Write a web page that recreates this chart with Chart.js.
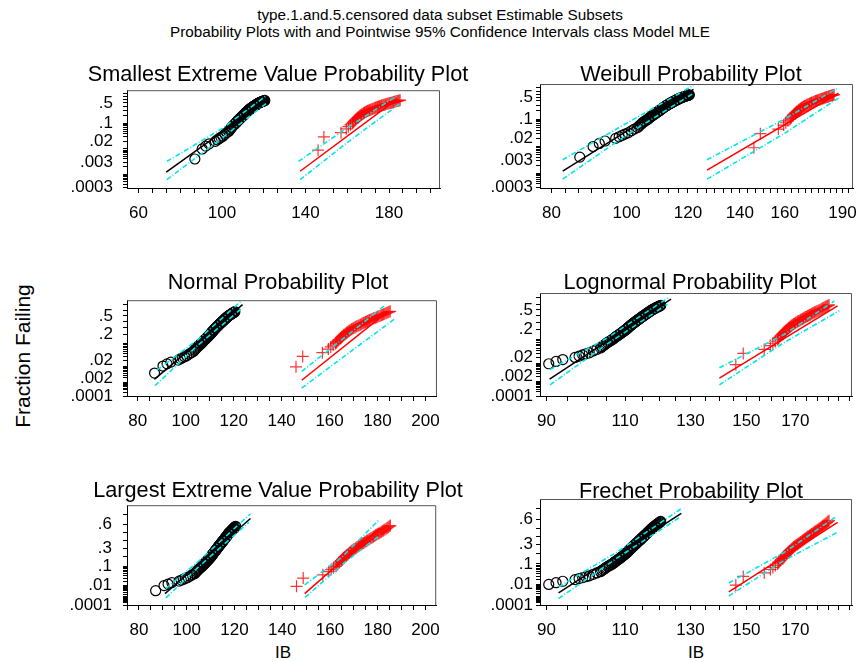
<!DOCTYPE html>
<html>
<head>
<meta charset="utf-8">
<script src="https://cdn.jsdelivr.net/npm/chart.js@4.4.1/dist/chart.umd.min.js"></script>
<style>
  html, body { margin: 0; padding: 0; background: #fff; }
  body { width: 861px; height: 662px; position: relative; overflow: hidden;
         font-family: "Liberation Sans", Arial, sans-serif; color: #000; }
  .txt { position: absolute; white-space: nowrap; line-height: 1; }
  canvas { position: absolute; }
</style>
</head>
<body>
<div class="txt" style="left:440px; top:7px; font-size:15.3px; transform:translateX(-50%)">type.1.and.5.censored data subset Estimable Subsets</div>
<div class="txt" style="left:440px; top:24px; font-size:15.3px; transform:translateX(-50%)">Probability Plots with and Pointwise 95% Confidence Intervals class Model MLE</div>
<div class="txt" style="left:22px; top:356px; font-size:21px; transform:translate(-50%,-50%) rotate(-90deg)">Fraction Failing</div>
<div class="txt" style="left:283px; top:644px; font-size:17px; transform:translateX(-50%)">IB</div>
<div class="txt" style="left:696px; top:644px; font-size:17px; transform:translateX(-50%)">IB</div>

<script>
// failure data, shared by all six plots (IB value, plotting position)
const G1_TIMES = [87.0, 90.5, 92.2, 93.8, 96.8, 97.8, 98.7, 99.5,
  100.4, 101.4, 102.3, 103.3, 103.7, 104.1, 104.5, 104.8, 105.2, 105.6, 106.0, 106.4,
  106.7, 106.9, 107.2, 107.4, 107.7, 107.9, 108.2, 108.4, 108.7, 108.9,
  109.1, 109.3, 109.5, 109.7, 109.9, 110.1, 110.3, 110.45, 110.6, 110.75,
  110.9, 111.05, 111.2, 111.35, 111.5, 111.65, 111.8, 111.95, 112.1, 112.25,
  112.4, 112.55, 112.7, 112.85, 113.0, 113.15, 113.3, 113.45, 113.6, 113.75,
  113.9, 114.05, 114.2, 114.35, 114.5, 114.65, 114.8, 114.95, 115.1, 115.25,
  115.4, 115.55, 115.7, 115.85, 116.0, 116.15, 116.3, 116.45, 116.6, 116.75,
  116.9, 117.05, 117.2, 117.35, 117.5, 117.65, 117.8, 118.0, 118.2, 118.4,
  118.6, 118.8, 119.0, 119.2, 119.4, 119.6, 119.9, 120.1, 120.3, 120.5];
const G1_PROBS = [0.004, 0.010, 0.013, 0.016, 0.020, 0.023, 0.026, 0.029,
  0.032, 0.038, 0.044, 0.050, 0.056, 0.062, 0.068, 0.074, 0.080, 0.086, 0.092, 0.098,
  0.104, 0.110, 0.116, 0.122, 0.128, 0.134, 0.140, 0.146, 0.152, 0.158,
  0.164, 0.170, 0.176, 0.182, 0.188, 0.194, 0.200, 0.206, 0.212, 0.218,
  0.224, 0.230, 0.236, 0.242, 0.248, 0.254, 0.260, 0.266, 0.272, 0.278,
  0.284, 0.290, 0.296, 0.302, 0.308, 0.314, 0.320, 0.326, 0.332, 0.338,
  0.344, 0.350, 0.356, 0.362, 0.368, 0.374, 0.380, 0.386, 0.392, 0.398,
  0.404, 0.410, 0.416, 0.422, 0.428, 0.434, 0.440, 0.446, 0.452, 0.458,
  0.464, 0.470, 0.476, 0.482, 0.488, 0.494, 0.500, 0.506, 0.512, 0.518,
  0.524, 0.530, 0.536, 0.542, 0.548, 0.554, 0.560, 0.566, 0.572, 0.578];

const G2_TIMES = [146.0, 148.8, 157.0, 159.5, 160.5, 161.5, 162.5,
  162.85, 163.2, 163.6, 163.9, 164.3, 164.6, 165.0, 165.3, 165.7, 166.0,
  166.4, 166.8, 167.1, 167.5, 167.8, 168.2, 168.5, 168.9, 169.25, 169.7,
  170.1, 170.6, 171.0, 171.4, 171.9, 172.3, 172.8, 173.2, 173.6, 174.1,
  174.5, 175.0, 175.4, 175.8, 176.3, 176.7, 177.2, 177.7, 178.2, 178.6,
  179.1, 179.6, 180.1, 180.6, 181.1, 181.6, 182.1, 182.5, 183.0, 183.5,
  183.95, 184.4, 184.85, 185.3];
const G2_PROBS = [0.009, 0.030, 0.044, 0.062, 0.075, 0.088, 0.100,
  0.109, 0.118, 0.127, 0.136, 0.145, 0.154, 0.163, 0.172, 0.181, 0.190,
  0.199, 0.208, 0.217, 0.226, 0.235, 0.244, 0.253, 0.262, 0.271, 0.280,
  0.289, 0.298, 0.307, 0.316, 0.325, 0.334, 0.343, 0.352, 0.361, 0.370,
  0.379, 0.388, 0.397, 0.406, 0.415, 0.424, 0.433, 0.442, 0.451, 0.460,
  0.469, 0.478, 0.487, 0.496, 0.505, 0.514, 0.523, 0.532, 0.541, 0.550,
  0.559, 0.568, 0.577, 0.586];

// tick labels
const SEV_Y_LABELS = [0.0003, 0.003, 0.02, 0.1, 0.5];
const NOR_Y_LABELS = [0.0001, 0.002, 0.02, 0.2, 0.5];
const LEV_Y_LABELS = [0.0001, 0.01, 0.1, 0.3, 0.6];
const SEV_X_LABELS = [60, 100, 140, 180];
const WEI_X_LABELS = [80, 100, 120, 140, 160, 190];
const NOR_X_LABELS = [80, 100, 120, 140, 160, 180, 200];
const LOG_X_LABELS = [90, 110, 130, 150, 170];

// ML fit lines and pointwise 95% bands, [IB, p]
const SEV_BLACK_FIT = [[73.3, 0.0012], [121.5, 0.6]];
const SEV_BLACK_UP = [[73.6, 0.0032], [100, 0.063], [121.5, 0.75]];
const SEV_BLACK_LO = [[73.6, 0.0006], [100, 0.027], [121.5, 0.5]];
const SEV_RED_FIT = [[137.4, 0.0013], [184, 0.63]];
const SEV_RED_UP = [[136.6, 0.0032], [160, 0.068], [183.7, 0.73]];
const SEV_RED_LO = [[137.4, 0.0006], [160, 0.018], [185.3, 0.48]];

const WEI_BLACK_FIT = [[82.7, 0.0012], [122, 0.75]];
const WEI_BLACK_UP = [[82.7, 0.0032], [100, 0.072], [122, 0.86]];
const WEI_BLACK_LO = [[82.7, 0.0006], [100, 0.027], [122, 0.63]];
const WEI_RED_FIT = [[127, 0.0013], [187.7, 0.63]];
const WEI_RED_UP = [[127, 0.0032], [160, 0.103], [187.7, 0.8]];
const WEI_RED_LO = [[127, 0.0006], [160, 0.031], [187.7, 0.48]];

const NOR_BLACK_FIT = [[86.9, 0.0016], [123.7, 0.7]];
const NOR_BLACK_UP = [[88, 0.006], [105, 0.134], [123, 0.75]];
const NOR_BLACK_LO = [[87.2, 0.0006], [105, 0.086], [123.5, 0.64]];
const NOR_RED_FIT = [[148.4, 0.0014], [184, 0.57]];
const NOR_RED_UP = [[148.4, 0.005], [165, 0.133], [182.8, 0.68]];
const NOR_RED_LO = [[148.4, 0.0004], [165, 0.0245], [187, 0.44]];

const LOG_BLACK_FIT = [[90.7, 0.0014], [123.7, 0.68]];
const LOG_BLACK_UP = [[90.8, 0.005], [105, 0.111], [123.1, 0.71]];
const LOG_BLACK_LO = [[90.8, 0.0006], [105, 0.069], [122.6, 0.6]];
const LOG_RED_FIT = [[140, 0.0016], [189.4, 0.57]];
const LOG_RED_UP = [[140, 0.0062], [165, 0.142], [187.8, 0.65]];
const LOG_RED_LO = [[140, 0.0006], [165, 0.078], [190.2, 0.485]];

const LEV_BLACK_FIT = [[90.9, 0.0022], [126.7, 0.66]];
const LEV_BLACK_UP = [[91.3, 0.006], [105, 0.147], [126.7, 0.705]];
const LEV_BLACK_LO = [[91.3, 0.0008], [105, 0.096], [126, 0.62]];
const LEV_RED_FIT = [[149.4, 0.0022], [180.8, 0.557]];
const LEV_RED_UP = [[149.4, 0.0114], [165, 0.19], [180.8, 0.653]];
const LEV_RED_LO = [[149.6, 0.0009], [165, 0.114], [181, 0.474]];

const FRE_BLACK_FIT = [[92.8, 0.0022], [127, 0.659]];
const FRE_BLACK_UP = [[92.8, 0.0067], [108, 0.22], [127, 0.7]];
const FRE_BLACK_LO = [[92.8, 0.0006], [108, 0.157], [126.5, 0.62]];
const FRE_RED_FIT = [[143.4, 0.0027], [189.4, 0.568]];
const FRE_RED_UP = [[143.4, 0.0125], [165, 0.206], [188.7, 0.627]];
const FRE_RED_LO = [[143.4, 0.0011], [165, 0.127], [189.4, 0.454]];

const CYAN = 'rgb(0,230,235)';
const YW = 90, PT = 14, PR = 10, XH = 40;

// inverse normal cdf (Acklam)
function qnorm(p) {
  const a = [-39.69683028665376, 220.9460984245205, -275.9285104469687, 138.3577518672690, -30.66479806614716, 2.506628277459239];
  const b = [-54.47609879822406, 161.5858368580409, -155.6989798598866, 66.80131188771972, -13.28068155288572];
  const c = [-0.007784894002430293, -0.3223964580411365, -2.400758277161838, -2.549732539343734, 4.374664141464968, 2.938163982698783];
  const d = [0.007784695709041462, 0.3224671290700398, 2.445134137142996, 3.754408661907416];
  const lo = 0.02425;
  if (p < lo || p > 1 - lo) {
    const q = Math.sqrt(-2 * Math.log(p < lo ? p : 1 - p));
    const v = (((((c[0]*q+c[1])*q+c[2])*q+c[3])*q+c[4])*q+c[5]) / ((((d[0]*q+d[1])*q+d[2])*q+d[3])*q+1);
    return p < lo ? v : -v;
  }
  const q = p - 0.5, r = q * q;
  return (((((a[0]*r+a[1])*r+a[2])*r+a[3])*r+a[4])*r+a[5])*q / (((((b[0]*r+b[1])*r+b[2])*r+b[3])*r+b[4])*r+1);
}

const TF = {
  sev: p => Math.log(-Math.log(1 - p)),
  nor: p => qnorm(p),
  lev: p => -Math.log(-Math.log(p)),
};

const PANELS = [
  { title: 'Smallest Extreme Value Probability Plot', tx: 278, tt: 63, box: [127, 84, 313, 104], yGap: 14,
    kind: 'sev', xType: 'linear', xMin: 54.5, xMax: 204.4, xLabels: SEV_X_LABELS, xStep: 20 / 3,
    yLabels: SEV_Y_LABELS, pMin: 0.00028, pMax: 0.89,
    black: [SEV_BLACK_FIT, SEV_BLACK_UP, SEV_BLACK_LO], red: [SEV_RED_FIT, SEV_RED_UP, SEV_RED_LO] },
  { title: 'Weibull Probability Plot', tx: 691, tt: 63, box: [540, 84, 313, 104], yGap: 7,
    kind: 'sev', xType: 'logarithmic', xMin: 77.3, xMax: 196, xLabels: WEI_X_LABELS, xStep: 10 / 3,
    yLabels: SEV_Y_LABELS, pMin: 0.00028, pMax: 0.89,
    black: [WEI_BLACK_FIT, WEI_BLACK_UP, WEI_BLACK_LO], red: [WEI_RED_FIT, WEI_RED_UP, WEI_RED_LO] },
  { title: 'Normal Probability Plot', tx: 278, tt: 271, box: [127, 294, 313, 102], yGap: 14,
    kind: 'nor', xType: 'linear', xMin: 75.5, xMax: 204.8, xLabels: NOR_X_LABELS, xStep: 5,
    yLabels: NOR_Y_LABELS, pMin: 0.0001, pMax: 0.768,
    black: [NOR_BLACK_FIT, NOR_BLACK_UP, NOR_BLACK_LO], red: [NOR_RED_FIT, NOR_RED_UP, NOR_RED_LO] },
  { title: 'Lognormal Probability Plot', tx: 690, tt: 271, box: [540, 293, 312, 103], yGap: 7,
    kind: 'nor', xType: 'logarithmic', xMin: 88.5, xMax: 196.5, xLabels: LOG_X_LABELS, xStep: 5,
    yLabels: NOR_Y_LABELS, pMin: 0.0001, pMax: 0.768,
    black: [LOG_BLACK_FIT, LOG_BLACK_UP, LOG_BLACK_LO], red: [LOG_RED_FIT, LOG_RED_UP, LOG_RED_LO] },
  { title: 'Largest Extreme Value Probability Plot', tx: 278, tt: 479, box: [127, 498, 313, 107], yGap: 15,
    kind: 'lev', xType: 'linear', xMin: 75, xMax: 204.5, xLabels: NOR_X_LABELS, xStep: 5,
    yLabels: LEV_Y_LABELS, pMin: 0.0001, pMax: 0.773,
    black: [LEV_BLACK_FIT, LEV_BLACK_UP, LEV_BLACK_LO], red: [LEV_RED_FIT, LEV_RED_UP, LEV_RED_LO] },
  { title: 'Frechet Probability Plot', tx: 691, tt: 480, box: [540, 499, 312, 106], yGap: 7,
    kind: 'lev', xType: 'logarithmic', xMin: 88.5, xMax: 196.5, xLabels: LOG_X_LABELS, xStep: 5,
    yLabels: LEV_Y_LABELS, pMin: 0.0001, pMax: 0.773,
    black: [FRE_BLACK_FIT, FRE_BLACK_UP, FRE_BLACK_LO], red: [FRE_RED_FIT, FRE_RED_UP, FRE_RED_LO] },
];

Chart.defaults.font.family = '"Liberation Sans", Arial, sans-serif';
Chart.defaults.font.size = 17;
Chart.defaults.color = '#000';

// top/right frame of the plotting region
const framePlugin = {
  id: 'frame',
  afterDraw(chart) {
    const { ctx, chartArea: a } = chart;
    ctx.save();
    ctx.strokeStyle = '#555';
    ctx.lineWidth = 1;
    ctx.beginPath();
    ctx.moveTo(a.left, a.top + 0.5);
    ctx.lineTo(a.right - 0.5, a.top + 0.5);
    ctx.lineTo(a.right - 0.5, a.bottom);
    ctx.stroke();
    ctx.restore();
  }
};

const near = (a, b) => Math.abs(a - b) < 1e-6 * Math.max(1, Math.abs(b));
const fmtP = p => String(p).replace(/^0/, '');

function yTicks(cfg) {
  const tf = TF[cfg.kind];
  const out = [];
  for (const e of [1e-4, 1e-3, 1e-2, 1e-1]) {
    for (let m = 1; m <= 9; m++) {
      const p = +(m * e).toPrecision(6);
      if (p < cfg.pMin * 0.9999 || p > cfg.pMax) continue;
      const lab = cfg.yLabels.find(l => near(l, p));
      out.push({ value: tf(p), txt: lab !== undefined ? fmtP(lab) : '' });
    }
  }
  return out;
}

function xTicks(cfg) {
  const out = [];
  const base = cfg.xLabels[0];
  for (let k = -20; k < 200; k++) {
    const v = base + k * cfg.xStep;
    if (v < cfg.xMin || v > cfg.xMax) continue;
    const lab = cfg.xLabels.find(l => Math.abs(l - v) < 1e-3);
    out.push({ value: v, txt: lab !== undefined ? String(lab) : '' });
  }
  return out;
}

function makePanel(cfg) {
  const [bl, bt, bw, bh] = cfg.box;
  const W = YW + bw + PR, H = PT + bh + XH;
  const cv = document.createElement('canvas');
  cv.width = W; cv.height = H;
  cv.style.left = (bl - YW) + 'px';
  cv.style.top = (bt - PT) + 'px';
  cv.style.width = W + 'px';
  cv.style.height = H + 'px';
  document.body.appendChild(cv);

  const t = document.createElement('div');
  t.className = 'txt';
  t.textContent = cfg.title;
  t.style.cssText += `left:${cfg.tx}px; top:${cfg.tt}px; font-size:21.7px; transform:translateX(-50%);`;
  document.body.appendChild(t);

  const tf = TF[cfg.kind];
  const seg = arr => arr.map(([x, p]) => ({ x, y: tf(p) }));
  const pts = (xs, ps) => xs.map((x, i) => ({ x, y: tf(ps[i]) }));
  const band = arr => ({ data: seg(arr), showLine: true, pointRadius: 0, borderColor: CYAN,
    borderWidth: 1.6, borderDash: [5, 2, 1, 2], fill: false, clip: 0 });
  const fit = (arr, col) => ({ data: seg(arr), showLine: true, pointRadius: 0, borderColor: col,
    borderWidth: 1.5, fill: false, clip: 0 });

  new Chart(cv, {
    type: 'scatter',
    data: {
      datasets: [
        band(cfg.red[1]), band(cfg.red[2]), band(cfg.black[1]), band(cfg.black[2]),
        fit(cfg.red[0], '#ff0000'), fit(cfg.black[0], '#000000'),
        { data: pts(G2_TIMES, G2_PROBS), pointStyle: 'cross', pointRadius: 6, borderColor: 'rgba(255,0,0,0.8)',
          borderWidth: 1.2, backgroundColor: 'rgba(0,0,0,0)', clip: 0 },
        { data: pts(G1_TIMES, G1_PROBS), pointStyle: 'circle', pointRadius: 5, borderColor: '#000',
          borderWidth: 1.2, backgroundColor: 'rgba(0,0,0,0)', clip: 0 },
      ]
    },
    options: {
      responsive: false,
      animation: false,
      events: [],
      layout: { padding: { left: 0, top: PT, right: PR, bottom: 0 } },
      plugins: { legend: { display: false }, tooltip: { enabled: false } },
      scales: {
        x: {
          type: cfg.xType, bounds: 'data', min: cfg.xMin, max: cfg.xMax,
          afterBuildTicks: s => { s.ticks = xTicks(cfg); },
          afterFit: s => { s.height = XH; },
          ticks: { autoSkip: false, maxRotation: 0, padding: 10, callback: (v, i, ticks) => ticks[i].txt },
          grid: { drawOnChartArea: false, drawTicks: true, tickLength: 5, color: '#000' },
          border: { color: '#000', width: 1 }
        },
        y: {
          type: 'linear', bounds: 'data', min: tf(cfg.pMin), max: tf(cfg.pMax),
          afterBuildTicks: s => { s.ticks = yTicks(cfg); },
          afterFit: s => { s.width = YW; },
          ticks: { autoSkip: false, padding: cfg.yGap - 4, callback: (v, i, ticks) => ticks[i].txt },
          grid: { drawOnChartArea: false, drawTicks: true, tickLength: 4, color: '#000' },
          border: { color: '#000', width: 1 }
        }
      }
    },
    plugins: [framePlugin]
  });
}

PANELS.forEach(makePanel);
</script>
</body>
</html>
